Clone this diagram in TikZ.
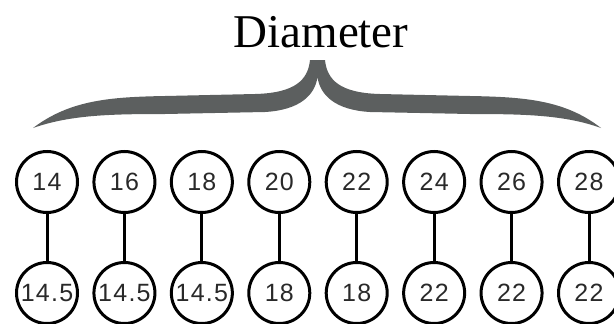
\documentclass[tikz,border=0pt]{standalone}
\usepackage{fontspec}
\setmainfont{Liberation Serif}
\newfontfamily\numfont[LetterSpace=5]{Liberation Sans}
\newlength{\du}
\setlength{\du}{10pt}
\definecolor{bracecolor}{rgb}{0.360000, 0.372000, 0.372000}
\definecolor{numcolor}{rgb}{0.160000, 0.160000, 0.160000}
\tikzset{
  sizenode/.style={circle, draw=black, line width=0.300000\du, inner sep=0pt,
    minimum size=6.100000\du, text=numcolor,
    font=\numfont\fontsize{25}{26}\selectfont},
  stemline/.style={draw=black, line width=0.300000\du}
}

\begin{document}
\begin{tikzpicture}
\pgftransformxscale{1.000000}
\pgftransformyscale{-1.000000}
\useasboundingbox (0.000000\du,0.000000\du) rectangle (61.400000\du,32.400000\du);
% setfont left to latex
\node[anchor=base] (title) at (32.100000\du,4.700000\du){\fontsize{47}{50}\selectfont Diameter};
% brace
\fill[bracecolor] (3.300000\du,12.800000\du)
  .. controls (7.000000\du,10.000000\du) and (11.000000\du,9.700000\du) .. (16.500000\du,9.600000\du)
  -- (25.500000\du,9.400000\du)
  .. controls (29.500000\du,9.300000\du) and (30.800000\du,8.000000\du) .. (31.000000\du,6.000000\du)
  -- (32.500000\du,6.000000\du)
  .. controls (32.700000\du,8.000000\du) and (34.000000\du,9.300000\du) .. (38.000000\du,9.400000\du)
  -- (47.000000\du,9.600000\du)
  .. controls (52.500000\du,9.700000\du) and (56.500000\du,10.000000\du) .. (60.100000\du,12.800000\du)
  .. controls (56.500000\du,11.500000\du) and (52.500000\du,11.400000\du) .. (47.000000\du,11.400000\du)
  -- (37.000000\du,11.200000\du)
  .. controls (33.500000\du,11.000000\du) and (32.000000\du,9.500000\du) .. (31.750000\du,7.700000\du)
  .. controls (31.500000\du,9.500000\du) and (30.000000\du,11.000000\du) .. (26.500000\du,11.200000\du)
  -- (16.500000\du,11.400000\du)
  .. controls (11.000000\du,11.400000\du) and (7.000000\du,11.500000\du) .. (3.300000\du,12.800000\du)
  -- cycle;
% top row
\node[sizenode] (top14) at (4.700000\du,18.200000\du){14};
\node[sizenode] (top16) at (12.443000\du,18.200000\du){16};
\node[sizenode] (top18) at (20.186000\du,18.200000\du){18};
\node[sizenode] (top20) at (27.929000\du,18.200000\du){20};
\node[sizenode] (top22) at (35.671000\du,18.200000\du){22};
\node[sizenode] (top24) at (43.414000\du,18.200000\du){24};
\node[sizenode] (top26) at (51.157000\du,18.200000\du){26};
\node[sizenode] (top28) at (58.900000\du,18.200000\du){28};
% bottom row
\node[sizenode] (bot14) at (4.700000\du,29.300000\du){14.5};
\node[sizenode] (bot16) at (12.443000\du,29.300000\du){14.5};
\node[sizenode] (bot18) at (20.186000\du,29.300000\du){14.5};
\node[sizenode] (bot20) at (27.929000\du,29.300000\du){18};
\node[sizenode] (bot22) at (35.671000\du,29.300000\du){18};
\node[sizenode] (bot24) at (43.414000\du,29.300000\du){22};
\node[sizenode] (bot26) at (51.157000\du,29.300000\du){22};
\node[sizenode] (bot28) at (58.900000\du,29.300000\du){22};
% stems
\draw[stemline] (top14)--(bot14);
\draw[stemline] (top16)--(bot16);
\draw[stemline] (top18)--(bot18);
\draw[stemline] (top20)--(bot20);
\draw[stemline] (top22)--(bot22);
\draw[stemline] (top24)--(bot24);
\draw[stemline] (top26)--(bot26);
\draw[stemline] (top28)--(bot28);
\end{tikzpicture}
\end{document}
